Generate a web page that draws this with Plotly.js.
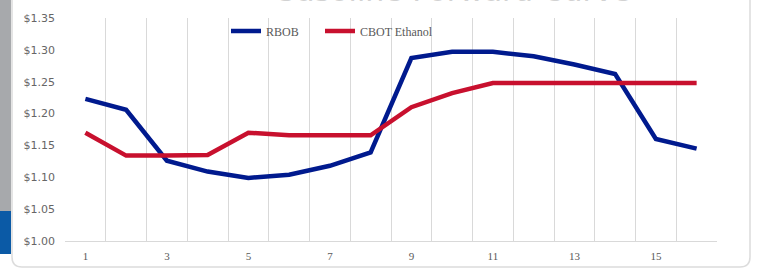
<!DOCTYPE html>
<html>
<head>
<meta charset="utf-8">
<script src="https://cdn.plot.ly/plotly-3.0.1.min.js"></script>
<style>html,body{margin:0;padding:0;background:#fff;}#chart{width:759px;height:275px;}</style>
</head>
<body>
<div id="chart"></div>
<script>
const months = [1,2,3,4,5,6,7,8,9,10,11,12,13,14,15,16];
const rbob = [1.223,1.206,1.126,1.109,1.099,1.104,1.118,1.139,1.287,1.297,1.297,1.290,1.277,1.262,1.160,1.145];
const ethanol = [1.170,1.134,1.134,1.135,1.170,1.166,1.166,1.166,1.210,1.232,1.248,1.248,1.248,1.248,1.248,1.248];
const xTickVals = [1,3,5,7,9,11,13,15];
const yTickVals = [1.00,1.05,1.10,1.15,1.20,1.25,1.30,1.35];
const yTickText = ['$1.00','$1.05','$1.10','$1.15','$1.20','$1.25','$1.30','$1.35'];

const L = 65, R = 717, T = 18, B = 241;
const px = x => (x - L) / (R - L);
const py = y => (B - y) / (B - T);

const traces = [
  {x: months, y: rbob, name: 'RBOB', type: 'scatter', mode: 'lines', legend: 'legend',
   line: {color: '#001a8e', width: 4.5}},
  {x: months, y: ethanol, name: 'CBOT Ethanol', type: 'scatter', mode: 'lines', legend: 'legend2',
   line: {color: '#c8102e', width: 4.5}}
];

const legendFont = {family: 'Liberation Serif, serif', size: 12, color: '#595959'};

const layout = {
  width: 759, height: 275,
  margin: {l: L, r: 759 - R, t: T, b: 275 - B},
  paper_bgcolor: '#ffffff', plot_bgcolor: 'rgba(0,0,0,0)',
  showlegend: true,
  legend: {orientation: 'h', x: px(226), xanchor: 'left', y: py(31), yanchor: 'middle',
    font: legendFont, bgcolor: 'rgba(0,0,0,0)', itemwidth: 30},
  legend2: {orientation: 'h', x: px(320), xanchor: 'left', y: py(31), yanchor: 'middle',
    font: legendFont, bgcolor: 'rgba(0,0,0,0)', itemwidth: 30},
  xaxis: {range: [0.5, 16.5], tickvals: xTickVals, ticktext: xTickVals.map(String),
    showgrid: false, zeroline: false, showline: true, linecolor: '#d9d9d9', linewidth: 1,
    ticks: '', tickfont: {family: 'Liberation Serif, serif', size: 11, color: '#595959'},
    ticklabelstandoff: 5,
    minor: {tick0: 0.5, dtick: 1, showgrid: true, gridcolor: '#d9d9d9', gridwidth: 1, ticks: ''}},
  yaxis: {range: [1.0, 1.35], tickvals: yTickVals, ticktext: yTickText,
    showgrid: false, zeroline: false, showline: false, ticks: '',
    tickfont: {family: 'DejaVu Sans, sans-serif', size: 11, color: '#666666'},
    ticklabelstandoff: 9},
  shapes: [
    {type: 'rect', xref: 'paper', yref: 'paper', x0: px(0), x1: px(11), y0: py(-5), y1: py(211),
     fillcolor: '#a7a9ac', line: {width: 0}, layer: 'below'},
    {type: 'rect', xref: 'paper', yref: 'paper', x0: px(0), x1: px(11), y0: py(211), y1: py(254),
     fillcolor: '#0b5aa6', line: {width: 0}, layer: 'below'},
    {type: 'path', xref: 'paper', yref: 'paper', layer: 'below',
     path: 'M ' + px(12) + ',' + py(-5) + ' L ' + px(12) + ',' + py(257) +
           ' Q ' + px(12) + ',' + py(267) + ' ' + px(22) + ',' + py(267) +
           ' L ' + px(740) + ',' + py(267) +
           ' Q ' + px(750) + ',' + py(267) + ' ' + px(750) + ',' + py(257) +
           ' L ' + px(750) + ',' + py(-5),
     line: {color: '#dcdcdc', width: 1.5}}
  ],
  annotations: [
    {text: 'Gasoline Forward Curve', xref: 'paper', yref: 'paper', x: px(452), y: py(10),
     xanchor: 'center', yanchor: 'bottom', showarrow: false,
     font: {family: 'DejaVu Sans, sans-serif', size: 30, color: '#d2d2d2'}}
  ]
};

Plotly.newPlot('chart', traces, layout, {displayModeBar: false, staticPlot: true});
</script>
</body>
</html>
